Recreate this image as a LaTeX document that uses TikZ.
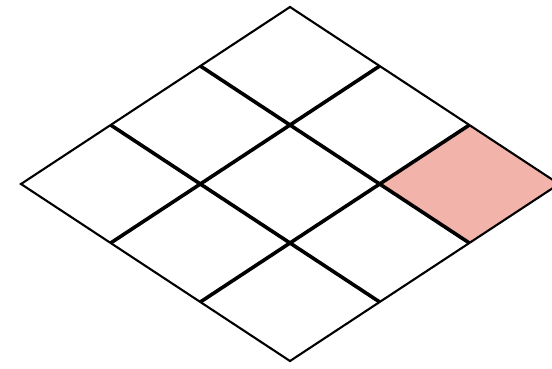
\documentclass[tikz,border=0pt]{standalone}
\definecolor{cellpink}{HTML}{F2B3AA}
\tikzset{
  outer/.style={draw=black, line width=2.1pt, line join=miter},
  inner/.style={draw=black, line width=3.6pt},
  hot/.style={fill=cellpink}
}
\begin{document}
\begin{tikzpicture}[x=1pt,y=1pt]
\useasboundingbox (0,0) rectangle (552,368);
% grid vertex P(i,j) = T + i*u + j*v
\def\Tx{290}\def\Ty{361}
\def\ux{89.67}\def\uy{-59}
\def\vx{-89.67}\def\vy{-59}
\foreach \i in {0,...,3}{
  \foreach \j in {0,...,3}{
    \coordinate (p\i\j) at ({\Tx+\i*\ux+\j*\vx},{\Ty+\i*\uy+\j*\vy});
  }
}
% highlighted cell (right corner)
\fill[hot] (p20) -- (p30) -- (p31) -- (p21) -- cycle;
% interior lines
\foreach \k in {1,2}{
  \draw[inner] (p\k0) -- (p\k3);
  \draw[inner] (p0\k) -- (p3\k);
}
% outline
\draw[outer] (p00) -- (p30) -- (p33) -- (p03) -- cycle;
\end{tikzpicture}
\end{document}
